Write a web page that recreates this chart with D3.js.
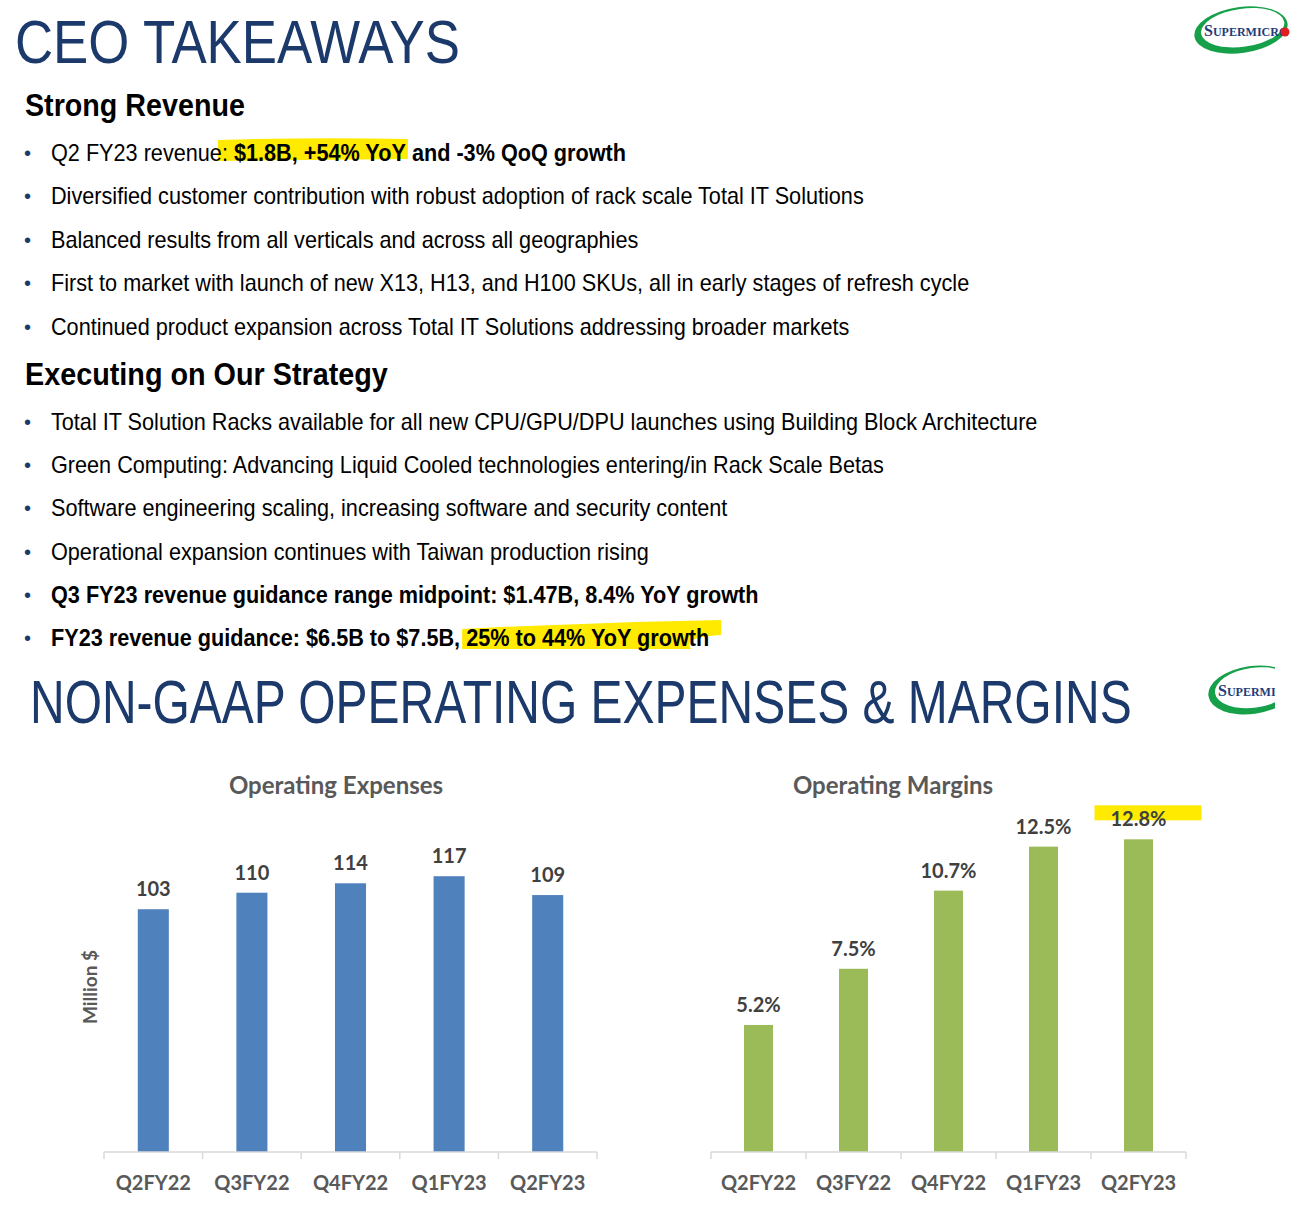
<!DOCTYPE html>
<html><head><meta charset="utf-8">
<script src="https://cdn.jsdelivr.net/npm/d3@7"></script>
<style>body{margin:0;background:#fff}svg{display:block}</style></head>
<body>
<svg id="c" width="1310" height="1217"></svg>
<script>
// ---------- data ----------
const categories = ["Q2FY22", "Q3FY22", "Q4FY22", "Q1FY23", "Q2FY23"];
const opexValues = [103, 110, 114, 117, 109];
const marginValues = [5.2, 7.5, 10.7, 12.5, 12.8];
const opexLabels = ["103", "110", "114", "117", "109"];
const marginLabels = ["5.2%", "7.5%", "10.7%", "12.5%", "12.8%"];
const highlightedMargin = "Q2FY23";

const strongRevenue = [
  [{t:"Q2 FY23 revenue", b:false}, {t:": ", b:false, hl:true}, {t:"$1.8B, +54% YoY", b:true, hl:true}, {t:" and -3% QoQ growth", b:true}],
  [{t:"Diversified customer contribution with robust adoption of rack scale Total IT Solutions", b:false}],
  [{t:"Balanced results from all verticals and across all geographies", b:false}],
  [{t:"First to market with launch of new X13, H13, and H100 SKUs, all in early stages of refresh cycle", b:false}],
  [{t:"Continued product expansion across Total IT Solutions addressing broader markets", b:false}]
];
const strategy = [
  [{t:"Total IT Solution Racks available for all new CPU/GPU/DPU launches using Building Block Architecture", b:false}],
  [{t:"Green Computing: Advancing Liquid Cooled technologies entering/in Rack Scale Betas", b:false}],
  [{t:"Software engineering scaling, increasing software and security content", b:false}],
  [{t:"Operational expansion continues with Taiwan production rising", b:false}],
  [{t:"Q3 FY23 revenue guidance range midpoint: $1.47B, 8.4% YoY growth", b:true}],
  [{t:"FY23 revenue guidance: $6.5B to $7.5B, ", b:true}, {t:"25% to 44% YoY growth", b:true, hl:true}]
];

// ---------- drawing ----------
const svg = d3.select("#c");
const NARROW = "'Liberation Sans Narrow','Arial Narrow','Liberation Sans',Arial,sans-serif";
const CHARTF = "Lato,'Open Sans',sans-serif";
const NAVY = "#1B3A6B";
const YELLOW = "#FFEA00";
const BULLET_SCALE = 0.942;

svg.append("rect").attr("width",1310).attr("height",1217).attr("fill","#fff");
const hlLayer = svg.append("g");
const textLayer = svg.append("g");

function fitX(sel, x, targetW) {
  const w = sel.node().getComputedTextLength();
  const k = targetW / w;
  sel.attr("transform", `translate(${x},0) scale(${k},1) translate(${-x},0)`);
  return k;
}

fitX(textLayer.append("text").attr("x",15).attr("y",63).attr("font-family",NARROW)
  .attr("font-size",61).attr("fill",NAVY).text("CEO TAKEAWAYS"), 15, 445);

fitX(textLayer.append("text").attr("x",25).attr("y",116).attr("font-family",NARROW)
  .attr("font-size",32).attr("font-weight","bold").attr("fill","#000").text("Strong Revenue"), 25, 220);
fitX(textLayer.append("text").attr("x",25).attr("y",385).attr("font-family",NARROW)
  .attr("font-size",32).attr("font-weight","bold").attr("fill","#000").text("Executing on Our Strategy"), 25, 363);

function bullets(lines, y0, dy, isStrategy) {
  lines.forEach((segs, i) => {
    const y = y0 + i*dy;
    textLayer.append("text").attr("x",24).attr("y",y-1).attr("font-family","Liberation Sans,Arial")
      .attr("font-size",20).attr("fill",NAVY).text("•");
    const t = textLayer.append("text").attr("x",51).attr("y",y).attr("font-family",NARROW)
      .attr("font-size",23).attr("fill","#000")
      .attr("transform",`translate(51,0) scale(${BULLET_SCALE},1) translate(-51,0)`);
    segs.forEach(s => { t.append("tspan").attr("font-weight", s.b ? "bold" : "normal").text(s.t); });
    let start = null, end = null, charIdx = 0;
    segs.forEach(s => {
      const n = s.t.length;
      if (s.hl) {
        const a = t.node().getStartPositionOfChar(charIdx).x;
        const e = t.node().getEndPositionOfChar(charIdx+n-1).x;
        if (start === null) start = a;
        end = e;
      }
      charIdx += n;
    });
    if (start !== null) {
      start = 51 + (start-51)*BULLET_SCALE;
      end = 51 + (end-51)*BULLET_SCALE;
      const last = isStrategy && i === lines.length-1;
      const x1 = start - 4, x2 = end + (last ? 12 : 2);
      const top = y - 23, bot = y + 3;
      const p = last
        ? `M${x1},${top+6} Q${(x1+x2)/2},${top-1} ${x2},${top-3} L${x2},${top+12} Q${x2-40},${top+14} ${x2-30},${bot} L${x1},${bot} Z`
        : `M${x1},${top+2} Q${(x1+x2)/2},${top-1} ${x2},${top+1} L${x2},${bot-5} L${x1},${bot-3} Z`;
      hlLayer.append("path").attr("d",p).attr("fill",YELLOW);
    }
  });
}
bullets(strongRevenue, 161, 43.4, false);
bullets(strategy, 430, 43.2, true);

// bottom slide title
fitX(svg.append("text").attr("x",30).attr("y",723).attr("font-family",NARROW)
  .attr("font-size",61).attr("fill",NAVY).text("NON-GAAP OPERATING EXPENSES & MARGINS"), 30, 1102);

// logos
function logo(cx, cy, rx, ry, clipRight, full) {
  const id = "clip" + Math.round(cy);
  svg.append("clipPath").attr("id",id).append("rect")
    .attr("x",cx-rx-10).attr("y",cy-ry-10).attr("width",clipRight-(cx-rx-10)).attr("height",2*ry+20);
  const g = svg.append("g").attr("clip-path",`url(#${id})`);
  g.append("path").attr("fill","#17A04A").attr("fill-rule","evenodd")
    .attr("transform",`rotate(-8,${cx},${cy})`)
    .attr("d",
      `M${cx-rx},${cy} a${rx},${ry} 0 1,0 ${2*rx},0 a${rx},${ry} 0 1,0 ${-2*rx},0 Z ` +
      `M${cx-rx+7},${cy-2} a${rx-5},${ry-4} 0 1,0 ${2*(rx-5)},0 a${rx-5},${ry-4} 0 1,0 ${-2*(rx-5)},0 Z`);
  const tx = g.append("text").attr("x",cx-rx+10).attr("y",cy+6).attr("font-family","Liberation Serif,serif")
    .attr("font-weight","bold").attr("fill","#1F3C7A").attr("font-size",12);
  tx.append("tspan").attr("font-size",16).text("S");
  tx.append("tspan").text("UPERMICRO");
  if (full) {
    g.append("circle").attr("cx",cx+rx-3).attr("cy",cy+2).attr("r",4.5).attr("fill","#E02020");
  }
}
logo(1241, 30, 47, 23, 1300, true);
logo(1252, 690, 44, 24, 1275, false);

// ---------- charts ----------
function barChart(opts) {
  const {cats, vals, labels, range, domain, color, barFrac, title, titleX} = opts;
  const base = 1152;
  const x = d3.scaleBand().domain(cats).range(range).padding(0);
  const y = d3.scaleLinear().domain(domain).range([base, opts.top]);
  const g = svg.append("g");
  g.append("text").attr("x",titleX).attr("y",794).attr("text-anchor","middle")
    .attr("font-family",CHARTF).attr("font-weight","bold").attr("font-size",24)
    .attr("fill","#595959").text(title);
  const bw = x.bandwidth()*barFrac;
  g.selectAll("rect.bar").data(cats).join("rect").attr("class","bar")
    .attr("x",c => x(c)+(x.bandwidth()-bw)/2).attr("width",bw)
    .attr("y",(c,i)=>y(vals[i])).attr("height",(c,i)=>base-y(vals[i])).attr("fill",color);
  if (opts.hlCat) {
    const c = opts.hlCat, i = cats.indexOf(c);
    const cx = x(c)+x.bandwidth()/2;
    g.append("rect").attr("x",cx-44).attr("y",y(vals[i])-34).attr("width",107).attr("height",15).attr("fill",YELLOW);
  }
  g.selectAll("text.val").data(cats).join("text").attr("class","val")
    .attr("x",c => x(c)+x.bandwidth()/2).attr("y",(c,i)=>y(vals[i])-13)
    .attr("text-anchor","middle").attr("font-family",CHARTF).attr("font-weight","bold")
    .attr("font-size",20).attr("fill","#404040").text((c,i)=>labels[i]);
  const ax = g.append("g").attr("transform",`translate(0,${base})`)
    .call(d3.axisBottom(x).tickSize(0).tickPadding(0));
  ax.select(".domain").remove();
  ax.selectAll(".tick text").attr("dy",null).attr("y",38).attr("font-family",CHARTF)
    .attr("font-weight","bold").attr("font-size",20).attr("fill","#595959");
  ax.append("line").attr("x1",range[0]).attr("x2",range[1]).attr("stroke","#D9D9D9").attr("stroke-width",1.5);
  const edges = cats.map(c => x(c)).concat([range[1]]);
  ax.selectAll("line.edge").data(edges).join("line").attr("class","edge")
    .attr("x1",d=>d).attr("x2",d=>d).attr("y1",0).attr("y2",7).attr("stroke","#D9D9D9").attr("stroke-width",1.5);
  return g;
}
barChart({cats:categories, vals:opexValues, labels:opexLabels, range:[104,597], domain:[0,140], top:822,
  color:"#4F81BD", barFrac:0.315, title:"Operating Expenses", titleX:336});
barChart({cats:categories, vals:marginValues, labels:marginLabels, range:[711,1186], domain:[0,14], top:810,
  color:"#9BBB59", barFrac:0.305, title:"Operating Margins", titleX:893, hlCat:highlightedMargin});

svg.append("text").attr("transform","translate(97,987) rotate(-90)").attr("text-anchor","middle")
  .attr("font-family",CHARTF).attr("font-weight","bold").attr("font-size",19).attr("fill","#595959").text("Million $");
</script>
</body></html>
